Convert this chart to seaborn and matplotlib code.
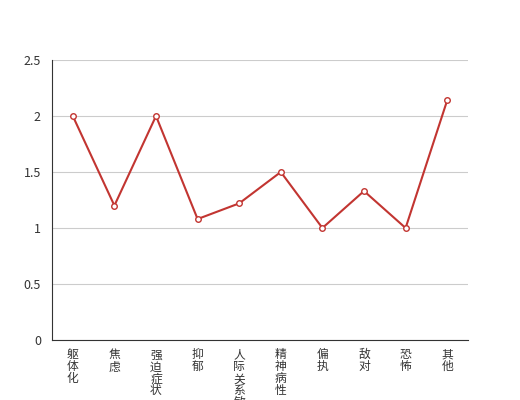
import numpy as np
import matplotlib
matplotlib.use('Agg')
import matplotlib.pyplot as plt
import seaborn as sns

categories = ['躯体化', '焦虑', '强迫症状', '抑郁', '人际关系敏感', '精神病性', '偏执', '敌对', '恐怖', '其他']
values = [2.0, 1.2, 2.0, 1.08, 1.22, 1.5, 1.0, 1.33, 1.0, 2.14]
y_ticks = [0, 0.5, 1, 1.5, 2, 2.5]
y_labels = ['0', '0.5', '1', '1.5', '2', '2.5']

sns.set_style('white')
plt.rcParams['font.family'] = ['Noto Sans CJK SC', 'DejaVu Sans']

fig = plt.figure(figsize=(5.2, 4.0), dpi=100)
ax = fig.add_axes([0.1, 0.15, 0.8, 0.7])

xs = np.arange(len(categories))
sns.lineplot(x=xs, y=values, ax=ax, color='#c23531', linewidth=1.5,
             marker='o', markersize=4, markerfacecolor='white',
             markeredgecolor='#c23531', markeredgewidth=1, zorder=3)

ax.set_xlim(-0.5, len(categories) - 0.5)
ax.set_ylim(0, 2.5)
ax.set_yticks(y_ticks)
ax.set_yticklabels(y_labels, fontsize=9, color='#333333')
ax.yaxis.grid(True, color='#cccccc', linewidth=0.8)
ax.set_axisbelow(True)

# band boundaries as major ticks, category labels at centres
ax.set_xticks(np.arange(-0.5, len(categories), 1.0))
ax.set_xticklabels([])
ax.set_xticks(xs, minor=True)
ax.set_xticklabels(['\n'.join(c) for c in categories], minor=True,
                   fontsize=8.5, color='#333333', linespacing=0.9, va='top')
ax.tick_params(axis='x', which='major', direction='out', length=5, color='#333333', width=0.8)
ax.tick_params(axis='x', which='minor', length=0, pad=6)
ax.tick_params(axis='y', direction='out', length=4, color='#333333', width=0.8, pad=4)

for s in ['top', 'right']:
    ax.spines[s].set_visible(False)
for s in ['left', 'bottom']:
    ax.spines[s].set_color('#333333')
    ax.spines[s].set_linewidth(0.8)

fig.savefig('out.png', dpi=100)
